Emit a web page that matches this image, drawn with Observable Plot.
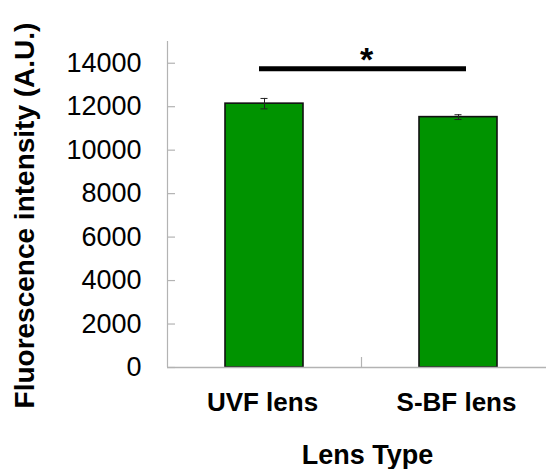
<!DOCTYPE html>
<html><head><meta charset="utf-8">
<script src="https://cdn.jsdelivr.net/npm/d3@7"></script>
<script src="https://cdn.jsdelivr.net/npm/@observablehq/plot@0.6"></script>
<style>body{margin:0;background:#fff}</style>
</head><body><div id="chart"></div>
<script>
const categories = ["UVF lens", "S-BF lens"];
const means = [12140, 11520];
const errors = [240, 110];
const yTicks = [0, 2000, 4000, 6000, 8000, 10000, 12000, 14000];
const sigLevel = 13750;
const sigLabel = "*";
const yLabel = "Fluorescence intensity (A.U.)";
const xLabel = "Lens Type";

const data = categories.map((c, i) => ({lens: c, mean: means[i], err: errors[i]}));
const font = "'Liberation Sans', Arial, Helvetica, sans-serif";
const axisGray = "#b3b3b3";

const plot = Plot.plot({
  width: 546, height: 469,
  marginLeft: 167, marginRight: 0, marginTop: 41, marginBottom: 102,
  style: {fontFamily: font, background: "#fff", color: "#000", overflow: "visible"},
  x: {domain: categories, range: [167, 555], padding: 0},
  y: {domain: [0, 15000]},
  marks: [
    Plot.barY(data, {x: "lens", y: "mean", fill: "#009300", stroke: "#111", strokeWidth: 1.6, insetLeft: 58, insetRight: 58}),
    Plot.ruleX(data, {x: "lens", y1: d => d.mean - d.err, y2: d => d.mean + d.err, stroke: "#222", strokeWidth: 1}),
    Plot.tickY(data, {x: "lens", y: d => d.mean + d.err, insetLeft: 93.5, insetRight: 93.5, stroke: "#222", strokeWidth: 1}),
    Plot.tickY(data, {x: "lens", y: d => d.mean - d.err, insetLeft: 93.5, insetRight: 93.5, stroke: "#222", strokeWidth: 1}),
    // axes lines
    Plot.ruleY([0], {stroke: axisGray, strokeWidth: 1.5}),
    Plot.ruleX([categories[0]], {x: d => d, dx: -97, y1: 0, y2: 15000, stroke: axisGray, strokeWidth: 1.2}),
    Plot.ruleX([categories[1]], {x: d => d, dx: -97, y1: 0, y2: 460, stroke: axisGray, strokeWidth: 1.2}),
    Plot.tickY(yTicks, {y: d => d, x: () => categories[0], insetLeft: 0, insetRight: 186, stroke: axisGray, strokeWidth: 1.2}),
    Plot.axisY({ticks: yTicks, tickSize: 0, tickPadding: 26, fontSize: 27, tickFormat: d => String(d), label: null}),
    Plot.axisX({tickSize: 0, tickPadding: 25, fontSize: 26, fontWeight: "bold", label: null, dx: -2}),
    // significance
    Plot.ruleY([sigLevel], {x1: () => categories[0], x2: () => categories[1], insetLeft: 92, insetRight: 89, stroke: "#000", strokeWidth: 5}),
    Plot.text([sigLabel], {text: d => d, y: () => sigLevel, dx: 9.5, dy: -9, fontSize: 34, fontWeight: "bold"}),
    // axis titles
    Plot.text([yLabel], {text: d => d, frameAnchor: "left", textAnchor: "middle", lineAnchor: "middle", rotate: -90, dx: -142, dy: 11, fontSize: 28, fontWeight: "bold"}),
    Plot.text([xLabel], {text: d => d, frameAnchor: "bottom", textAnchor: "middle", lineAnchor: "top", dx: 10.5, dy: 77, fontSize: 27, fontWeight: "bold"})
  ]
});
document.getElementById("chart").appendChild(plot);
</script>
</body></html>
